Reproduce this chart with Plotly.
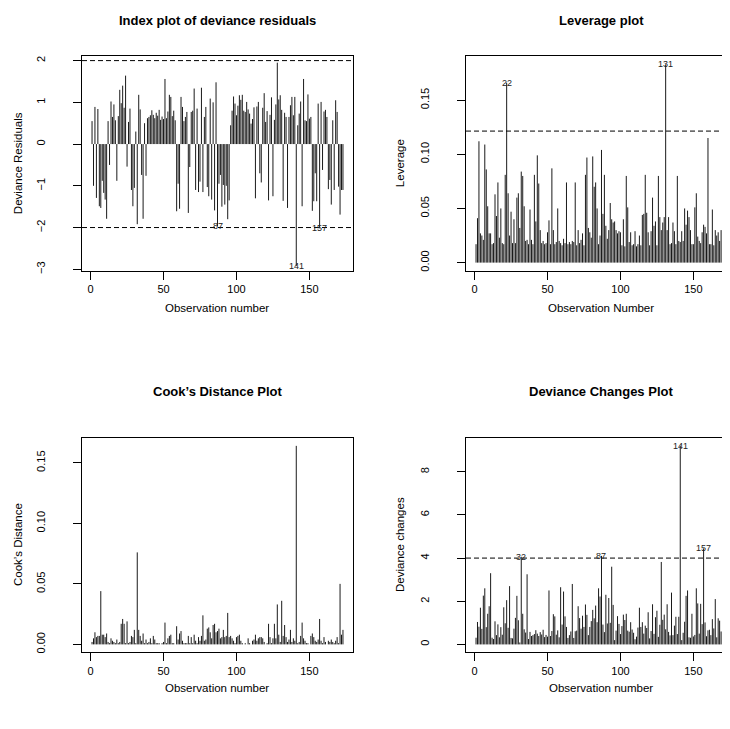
import plotly.graph_objects as go

obs = list(range(1, 174))

dev_res = [
    0.55, -1.00, 0.89, -1.29, 0.84, -1.49, -1.53, -0.88, -1.17, -1.33,
    -1.79, 0.55, -0.50, 1.02, 0.65, 0.95, 0.57, -0.88, 0.67, 1.30,
    0.98, 1.40, 0.87, 1.64, -0.54, 0.53, 0.85, -1.10, -1.49, -1.05,
    0.30, -1.92, 1.18, 0.83, -0.74, -1.79, 0.50, -0.76, 0.62, 0.65,
    0.69, 0.81, 0.70, 0.62, 0.75, 0.68, 0.82, 0.58, 0.66, 0.60,
    1.56, 0.62, 0.78, 1.18, 1.13, 0.67, 0.80, 0.57, -1.61, -0.95,
    -1.55, 1.13, 0.89, 0.55, 0.65, 0.77, -1.65, -0.55, 0.77, 0.80,
    1.33, -1.10, 0.85, -1.15, -0.90, 1.35, -1.15, 0.65, 0.89, -1.03,
    -1.25, 1.09, -1.33, 1.00, -1.59, 1.48, -1.97, -0.95, -0.74, -1.50,
    -0.98, -1.45, -1.00, -1.80, -1.35, 0.45, 0.80, 1.14, 0.97, 0.69,
    0.92, 1.17, 1.06, 1.18, 0.80, 0.77, 1.01, 0.83, 0.73, 0.49,
    0.60, 0.88, -1.30, 0.90, 1.01, -0.70, -0.92, 0.87, 1.22, 0.53,
    0.79, -1.35, 0.70, 1.12, -1.25, 0.58, 0.95, 1.95, 1.07, 1.17,
    0.82, -1.36, 0.75, 0.65, -1.53, 0.65, 0.93, 1.13, 0.69, 1.13,
    -2.92, 0.45, 0.73, 1.02, -1.49, 1.56, 0.57, 0.55, 1.19, 0.61,
    0.65, -1.60, -1.37, -0.70, -1.37, 0.97, -2.02, 1.01, -0.62, 0.78,
    0.82, 0.65, -1.08, -0.86, -1.45, 0.57, -1.10, 1.05, 0.77, -1.02,
    -1.69, -1.10, -1.10,
]

leverage = [
    0.017, 0.041, 0.112, 0.027, 0.025, 0.021, 0.109, 0.086, 0.052, 0.027,
    0.027, 0.017, 0.018, 0.063, 0.043, 0.074, 0.023, 0.050, 0.018, 0.017,
    0.081, 0.166, 0.064, 0.025, 0.047, 0.018, 0.040, 0.018, 0.060, 0.064,
    0.032, 0.084, 0.080, 0.052, 0.020, 0.021, 0.017, 0.049, 0.021, 0.017,
    0.081, 0.038, 0.099, 0.073, 0.030, 0.018, 0.020, 0.017, 0.018, 0.028,
    0.039, 0.017, 0.087, 0.030, 0.017, 0.019, 0.050, 0.020, 0.018, 0.016,
    0.022, 0.018, 0.074, 0.017, 0.019, 0.017, 0.020, 0.019, 0.074, 0.016,
    0.030, 0.018, 0.021, 0.027, 0.016, 0.081, 0.097, 0.032, 0.028, 0.023,
    0.098, 0.070, 0.074, 0.050, 0.017, 0.025, 0.104, 0.045, 0.081, 0.034,
    0.022, 0.030, 0.055, 0.040, 0.037, 0.038, 0.030, 0.027, 0.029, 0.028,
    0.016, 0.040, 0.015, 0.080, 0.051, 0.019, 0.028, 0.016, 0.017, 0.029,
    0.015, 0.017, 0.025, 0.016, 0.044, 0.045, 0.081, 0.046, 0.028, 0.016,
    0.029, 0.060, 0.034, 0.038, 0.016, 0.080, 0.042, 0.030, 0.037, 0.042,
    0.183, 0.030, 0.042, 0.017, 0.018, 0.037, 0.029, 0.017, 0.080, 0.020,
    0.019, 0.029, 0.020, 0.050, 0.035, 0.048, 0.042, 0.030, 0.017, 0.017,
    0.051, 0.064, 0.024, 0.020, 0.018, 0.028, 0.035, 0.033, 0.027, 0.115,
    0.017, 0.017, 0.049, 0.016, 0.030, 0.025, 0.028, 0.020, 0.030, 0.040,
    0.091, 0.062, 0.081,
]

cooks = [
    0.002, 0.005, 0.010, 0.006, 0.007, 0.007, 0.044, 0.008, 0.008, 0.006,
    0.009, 0.002, 0.001, 0.005, 0.003, 0.002, 0.001, 0.004, 0.001, 0.002,
    0.017, 0.021, 0.017, 0.001, 0.019, 0.001, 0.002, 0.007, 0.006, 0.012,
    0.001, 0.076, 0.012, 0.007, 0.003, 0.009, 0.001, 0.004, 0.001, 0.002,
    0.005, 0.001, 0.007, 0.004, 0.001, 0.001, 0.001, 0.000, 0.001, 0.002,
    0.018, 0.001, 0.005, 0.007, 0.008, 0.001, 0.001, 0.000, 0.015, 0.004,
    0.009, 0.011, 0.003, 0.001, 0.001, 0.001, 0.007, 0.001, 0.006, 0.001,
    0.008, 0.003, 0.001, 0.006, 0.003, 0.007, 0.024, 0.003, 0.004, 0.013,
    0.014, 0.010, 0.005, 0.016, 0.017, 0.010, 0.011, 0.013, 0.005, 0.006,
    0.012, 0.006, 0.007, 0.026, 0.006, 0.007, 0.005, 0.003, 0.001, 0.006,
    0.007, 0.008, 0.003, 0.001, 0.000, 0.001, 0.000, 0.005, 0.001, 0.000,
    0.003, 0.004, 0.008, 0.003, 0.005, 0.006, 0.006, 0.005, 0.002, 0.000,
    0.001, 0.017, 0.006, 0.001, 0.005, 0.017, 0.005, 0.033, 0.008, 0.002,
    0.036, 0.007, 0.016, 0.006, 0.002, 0.004, 0.012, 0.002, 0.005, 0.003,
    0.164, 0.001, 0.002, 0.007, 0.018, 0.005, 0.003, 0.001, 0.001, 0.000,
    0.007, 0.009, 0.006, 0.003, 0.002, 0.004, 0.021, 0.003, 0.001, 0.006,
    0.002, 0.000, 0.003, 0.002, 0.004, 0.002, 0.001, 0.003, 0.006, 0.001,
    0.050, 0.008, 0.012,
]

dev_change = [
    0.31, 1.04, 0.82, 1.70, 0.72, 2.26, 2.60, 0.80, 1.42, 1.77,
    3.30, 0.31, 0.25, 1.07, 0.43, 0.93, 0.33, 0.80, 0.45, 1.72,
    0.98, 2.05, 0.77, 2.70, 0.30, 0.28, 0.73, 1.23, 2.25, 1.12,
    0.09, 4.06, 1.42, 0.70, 0.55, 3.25, 0.25, 0.58, 0.39, 0.43,
    0.48, 0.66, 0.50, 0.39, 0.57, 0.46, 0.68, 0.34, 0.44, 0.36,
    2.50, 0.39, 0.62, 1.40, 1.30, 0.45, 0.65, 0.33, 2.65, 0.92,
    2.45, 1.30, 0.81, 0.30, 0.43, 0.60, 2.80, 0.30, 0.61, 0.64,
    1.77, 1.22, 0.73, 1.33, 0.81, 1.85, 1.37, 0.43, 0.81, 1.08,
    1.60, 1.21, 1.80, 1.03, 2.60, 2.22, 4.10, 0.92, 0.57, 2.30,
    0.97, 2.15, 1.00, 3.60, 1.83, 0.20, 0.64, 1.31, 0.95, 0.48,
    0.85, 1.38, 1.13, 1.42, 0.64, 0.59, 1.03, 0.69, 0.54, 0.24,
    0.36, 0.78, 1.70, 0.81, 1.03, 0.50, 0.87, 0.76, 1.49, 0.28,
    0.62, 1.86, 0.49, 1.26, 1.56, 0.35, 0.91, 3.82, 1.14, 1.38,
    0.70, 1.86, 0.58, 0.42, 2.40, 0.43, 0.87, 1.28, 0.48, 1.28,
    9.20, 0.20, 0.54, 1.05, 2.25, 2.50, 0.33, 0.31, 1.42, 0.37,
    0.44, 2.60, 1.90, 0.50, 1.88, 0.94, 4.45, 1.02, 0.38, 0.65,
    0.68, 0.43, 1.17, 0.74, 2.10, 0.33, 1.21, 1.10, 0.60, 1.04,
    3.15, 1.25, 1.22,
]

# reference lines
res_cut = [-2, 2]
lev_cut = 0.1214
dev_cut = 4

# labelled observations
res_labels = [87, 141, 157]
lev_labels = [22, 131]
dev_labels = [32, 87, 141, 157]

x_ticks = [0, 50, 100, 150]
res_ticks = [-3, -2, -1, 0, 1, 2]
lev_ticks = [0.00, 0.05, 0.10, 0.15]
lev_ticktext = ["0.00", "0.05", "0.10", "0.15"]
cook_ticks = [0.00, 0.05, 0.10, 0.15]
dev_ticks = [0, 2, 4, 6, 8]

titles = ["Index plot of deviance residuals", "Leverage plot",
          "Cook\u2019s Distance Plot", "Deviance Changes Plot"]
xtitles = ["Observation number", "Observation Number",
           "Observation number", "Observation number"]
ytitles = ["Deviance Residuals", "Leverage", "Cook\u2019s Distance", "Deviance changes"]

# the page body has an 8px margin; lay the figure out in window pixels
OFF = 8
W, H = 730 - OFF, 729 - 2 * OFF
FONT = "Liberation Sans, Arial, Helvetica, sans-serif"


def px(xw):
    return (xw - OFF) / W


def py(yw):
    return 1 - (yw - OFF) / H


def stems(x, y):
    xs, ys = [], []
    for a, b in zip(x, y):
        xs += [a, a, None]
        ys += [0, b, None]
    return xs, ys


fig = go.Figure()
series = [dev_res, leverage, cooks, dev_change]
for k, s in enumerate(series):
    xs, ys = stems(obs, s)
    ax = "" if k == 0 else str(k + 1)
    fig.add_trace(go.Scatter(x=xs, y=ys, mode="lines",
                             line=dict(color="#1a1a1a", width=1),
                             xaxis="x" + ax, yaxis="y" + ax,
                             hoverinfo="skip", showlegend=False))

# panel geometry in window pixels (left, right, top, bottom)
geo = [
    (82, 353, 55.7, 271),
    (466, 730, 55.7, 271),
    (82, 353, 439.3, 655),
    (466, 730, 439.3, 655),
]
xranges = [[-5.88, 179.88], [-5.88, 175.1], [-5.88, 179.88], [-5.88, 175.1]]
yranges = [[-3.03, 2.10], [-0.0073, 0.1903], [-0.0066, 0.1706], [-0.368, 9.568]]
ytickvals = [res_ticks, lev_ticks, cook_ticks, dev_ticks]
yticktext = [[("\u2212" + str(-v)) if v < 0 else str(v) for v in res_ticks],
             lev_ticktext, lev_ticktext, [str(v) for v in dev_ticks]]

layout = dict(width=W, height=H, margin=dict(l=0, r=0, t=0, b=0),
              paper_bgcolor="white", plot_bgcolor="white",
              font=dict(family=FONT, size=11, color="black"))
for k in range(4):
    l, r, t, b = geo[k]
    ax = "" if k == 0 else str(k + 1)
    full_box = k in (0, 2)
    layout["xaxis" + ax] = dict(
        domain=[px(l), min(1.0, px(r))], anchor="y" + ax, range=xranges[k],
        tickvals=x_ticks, ticks="outside", ticklen=8, tickcolor="black",
        showline=True, linecolor="black", linewidth=1, mirror=True,
        showgrid=False, zeroline=False, ticklabelstandoff=0,
        tickfont=dict(size=11, family=FONT, color="black"))
    layout["yaxis" + ax] = dict(
        domain=[py(b), py(t)], anchor="x" + ax, range=yranges[k],
        tickvals=ytickvals[k], ticktext=yticktext[k], tickangle=-90,
        ticks="outside", ticklen=8, tickcolor="black",
        showline=True, linecolor="black", linewidth=1,
        mirror=True if full_box else False,
        showgrid=False, zeroline=False, ticklabelstandoff=24,
        tickfont=dict(size=11, family=FONT, color="black"))
fig.update_layout(**layout)

shapes = []
dash = "5px,3px"
for v in res_cut:
    shapes.append(dict(type="line", xref="x domain", yref="y", x0=0, x1=1, y0=v, y1=v,
                       line=dict(color="black", width=1, dash=dash)))
shapes.append(dict(type="line", xref="x2 domain", yref="y2", x0=0, x1=1, y0=lev_cut, y1=lev_cut,
                   line=dict(color="black", width=1, dash=dash)))
shapes.append(dict(type="line", xref="x4 domain", yref="y4", x0=0, x1=1, y0=dev_cut, y1=dev_cut,
                   line=dict(color="black", width=1, dash=dash)))
fig.update_layout(shapes=shapes)

ann = []
lab_font = dict(size=9, family=FONT, color="#222")
for i in res_labels:
    ann.append(dict(x=i, y=dev_res[i - 1], xref="x", yref="y", text=str(i),
                    showarrow=False, font=lab_font))
for i in lev_labels:
    ann.append(dict(x=i, y=leverage[i - 1], xref="x2", yref="y2", text=str(i),
                    showarrow=False, font=lab_font))
for i in dev_labels:
    ann.append(dict(x=i, y=dev_change[i - 1], xref="x4", yref="y4", text=str(i),
                    showarrow=False, font=lab_font))

centers_x = [217, 601, 217, 601]
title_y = [20, 20, 393, 393]
xtitle_y = [309, 309, 691, 691]
ytitle_x = [18, 400, 18, 400]
ytitle_y = [163, 163, 547, 547]
for k in range(4):
    ann.append(dict(x=px(centers_x[k]), y=py(title_y[k]), xref="paper", yref="paper",
                    text="<b>" + titles[k] + "</b>", showarrow=False,
                    font=dict(size=13, family=FONT, color="black"),
                    xanchor="center", yanchor="middle"))
    ann.append(dict(x=px(centers_x[k]), y=py(xtitle_y[k]), xref="paper", yref="paper",
                    text=xtitles[k], showarrow=False,
                    font=dict(size=11.5, family=FONT, color="black"),
                    xanchor="center", yanchor="middle"))
    ann.append(dict(x=px(ytitle_x[k]), y=py(ytitle_y[k]), xref="paper", yref="paper",
                    text=ytitles[k], showarrow=False, textangle=-90,
                    font=dict(size=11.5, family=FONT, color="black"),
                    xanchor="center", yanchor="middle"))
fig.update_layout(annotations=ann)

fig.write_html("out.html")
